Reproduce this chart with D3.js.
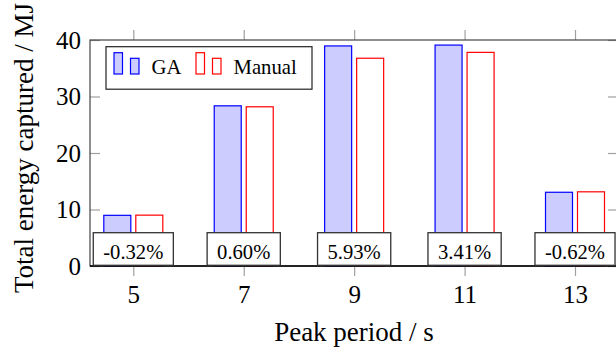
<!DOCTYPE html>
<html>
<head>
<meta charset="utf-8">
<script src="https://cdn.jsdelivr.net/npm/d3@7"></script>
<style>
  body { margin: 0; background: #fff; }
  svg text { font-family: "Liberation Serif", "Times New Roman", serif; }
</style>
</head>
<body>
<div class="chart"></div>
<script>
// data
var periods = [5, 7, 9, 11, 13];
var gaValues = [8.97, 28.35, 38.95, 39.10, 13.05];
var manualValues = [9.00, 28.18, 36.77, 37.81, 13.13];
var diffLabels = ['-0.32%', '0.60%', '5.93%', '3.41%', '-0.62%'];
var yTicks = [0, 10, 20, 30, 40];
var seriesNames = ['GA', 'Manual'];

var svgWidth = 616;
var svgHeight = 350;

var frame = { left: 90, right: 618, top: 40, bottom: 266 };

var svg = d3.select('.chart')
  .append('svg')
  .attr('width', svgWidth)
  .attr('height', svgHeight);

// scales
var xScale = d3.scaleLinear()
  .domain([5, 13])
  .range([133.3, 575]);

var yScale = d3.scaleLinear()
  .domain([0, 40])
  .range([frame.bottom, frame.top]);

var barW = 27;
var barGap = 5;

var data = periods.map(function(p, i) {
  return { period: p, ga: gaValues[i], manual: manualValues[i], label: diffLabels[i] };
});

// bars
var bars = svg.append('g');
bars.selectAll('rect.ga')
  .data(data)
  .enter()
  .append('rect')
  .attr('class', 'ga')
  .attr('x', d => xScale(d.period) - barGap / 2 - barW)
  .attr('y', d => yScale(d.ga))
  .attr('width', barW)
  .attr('height', d => yScale(0) - yScale(d.ga))
  .attr('fill', '#ccccff')
  .attr('stroke', '#0000ff')
  .attr('stroke-width', 1.2);

bars.selectAll('rect.manual')
  .data(data)
  .enter()
  .append('rect')
  .attr('class', 'manual')
  .attr('x', d => xScale(d.period) + barGap / 2)
  .attr('y', d => yScale(d.manual))
  .attr('width', barW)
  .attr('height', d => yScale(0) - yScale(d.manual))
  .attr('fill', '#ffffff')
  .attr('stroke', '#ff0000')
  .attr('stroke-width', 1.2);

// axes: x ticks outside, y ticks inside
var bottomAxis = d3.axisBottom(xScale).tickValues(periods).tickSize(10).tickPadding(9);
var topAxis = d3.axisTop(xScale).tickValues(periods).tickSize(10).tickFormat('');
var leftAxis = d3.axisLeft(yScale).tickValues(yTicks).tickSize(-10).tickPadding(9);
var rightAxis = d3.axisRight(yScale).tickValues(yTicks).tickSize(-10).tickFormat('');

function styleAxis(g) {
  g.attr('font-family', null).attr('font-size', null);
  g.select('.domain').remove();
  g.selectAll('.tick line').attr('stroke', '#a0a0a0').attr('stroke-width', 1.2);
  g.selectAll('.tick text')
    .attr('fill', '#000')
    .attr('font-size', 25);
}

svg.append('g')
  .attr('transform', `translate(0, ${frame.bottom})`)
  .call(bottomAxis)
  .call(styleAxis);

svg.append('g')
  .attr('transform', `translate(0, ${frame.top})`)
  .call(topAxis)
  .call(styleAxis);

svg.append('g')
  .attr('transform', `translate(${frame.left}, 0)`)
  .call(leftAxis)
  .call(styleAxis);

svg.append('g')
  .attr('transform', `translate(${frame.right}, 0)`)
  .call(rightAxis)
  .call(styleAxis);

// frame
svg.append('rect')
  .attr('x', frame.left)
  .attr('y', frame.top)
  .attr('width', frame.right - frame.left)
  .attr('height', frame.bottom - frame.top)
  .attr('fill', 'none')
  .attr('stroke', '#444')
  .attr('stroke-width', 1.2);

svg.append('line')
  .attr('x1', frame.left).attr('x2', frame.right)
  .attr('y1', frame.bottom).attr('y2', frame.bottom)
  .attr('stroke', '#000')
  .attr('stroke-width', 1.3);

// difference labels in boxes
var boxes = svg.append('g').selectAll('g')
  .data(data)
  .enter()
  .append('g');

boxes.append('text')
  .attr('x', d => xScale(d.period))
  .attr('y', 258.5)
  .attr('text-anchor', 'middle')
  .attr('font-size', 20.6)
  .text(d => d.label);

boxes.each(function() {
  var g = d3.select(this);
  var bb = g.select('text').node().getBBox();
  g.insert('rect', 'text')
    .attr('x', bb.x - 10)
    .attr('y', 232.7)
    .attr('width', bb.width + 20)
    .attr('height', 32.6)
    .attr('fill', '#fff')
    .attr('stroke', '#333')
    .attr('stroke-width', 1.3);
});

// legend
var legend = svg.append('g');
legend.append('rect')
  .attr('x', 106)
  .attr('y', 46.7)
  .attr('width', 206)
  .attr('height', 42.5)
  .attr('fill', '#fff')
  .attr('stroke', '#222')
  .attr('stroke-width', 1.2);

var legendItems = [
  { name: seriesNames[0], x: 114, fill: '#ccccff', stroke: '#0000ff' },
  { name: seriesNames[1], x: 196, fill: '#ffffff', stroke: '#ff0000' }
];

legendItems.forEach(function(item) {
  legend.append('rect')
    .attr('x', item.x).attr('y', 52.7)
    .attr('width', 8.5).attr('height', 21.3)
    .attr('fill', item.fill).attr('stroke', item.stroke).attr('stroke-width', 1.2);
  legend.append('rect')
    .attr('x', item.x + 16.5).attr('y', 58.3)
    .attr('width', 8.5).attr('height', 15.7)
    .attr('fill', item.fill).attr('stroke', item.stroke).attr('stroke-width', 1.2);
  legend.append('text')
    .attr('x', item.x + 37.5)
    .attr('y', 74.3)
    .attr('font-size', 20.7)
    .text(item.name);
});

// axis labels
svg.append('text')
  .attr('transform', 'translate(33, 148) rotate(-90)')
  .attr('text-anchor', 'middle')
  .attr('font-size', 27)
  .text('Total energy captured / MJ');

svg.append('text')
  .attr('x', 354)
  .attr('y', 340.5)
  .attr('text-anchor', 'middle')
  .attr('font-size', 27)
  .text('Peak period / s');
</script>
</body>
</html>
